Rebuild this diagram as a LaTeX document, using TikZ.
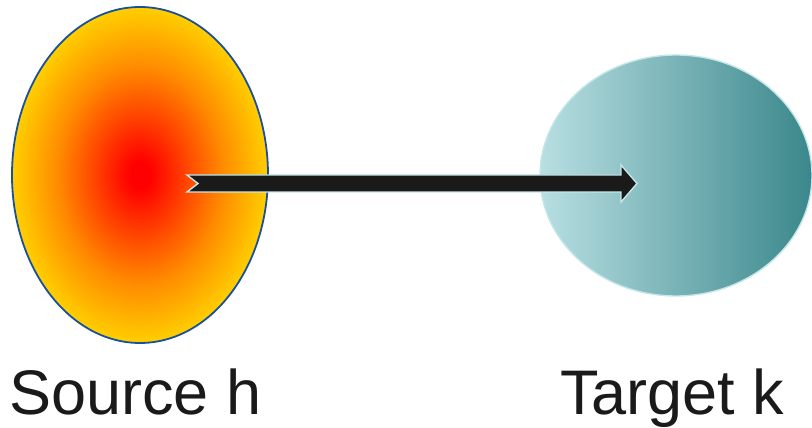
\documentclass[tikz,border=0pt]{standalone}
\usepackage{fontspec}
\setmainfont{Liberation Sans}
\usetikzlibrary{shapes.geometric, positioning, calc}

\definecolor{srcedge}{HTML}{1A4F9A}
\definecolor{tgtlight}{HTML}{B8DFE2}
\definecolor{tgtdark}{HTML}{3A878B}
\definecolor{tgtedge}{HTML}{C4E6E8}
\definecolor{arrowfill}{HTML}{1A1A1A}
\definecolor{srcmid}{HTML}{FF8A00}

\pgfdeclareradialshading{srcglow}{\pgfpoint{0bp}{0bp}}{%
  color(0bp)=(red); color(2bp)=(red); color(16bp)=(srcmid);
  color(30bp)=(yellow!92!orange); color(35bp)=(yellow); color(100bp)=(yellow)}

\tikzset{
  blob/.style={ellipse, inner sep=0pt},
  caption/.style={anchor=base west, inner sep=0pt, text=arrowfill,
    font=\fontsize{63}{76}\selectfont},
}

\begin{document}
\begin{tikzpicture}[x=1pt, y=1pt]

  % --- Canvas ---
  \useasboundingbox (0,0) rectangle (812,428);
  \clip (0,0) rectangle (812,428);

  % --- Source and target ---
  \node[blob, minimum width=256pt, minimum height=336pt,
        draw=srcedge, line width=1.8pt, shading=srcglow] (src) at (140,253) {};
  \node[blob, minimum width=272pt, minimum height=241pt,
        draw=tgtedge, line width=1.4pt,
        left color=tgtlight, right color=tgtdark] (tgt) at (676,252.5) {};

  % --- Arrow (notched tail) ---
  \coordinate (tail) at ($(src.center)+(47,-8.5)$);
  \coordinate (tip)  at ($(tgt.center)+(-39,-8)$);
  \filldraw[fill=arrowfill, draw=tgtedge, line width=1.4pt, line join=miter]
    (tail |- 0,253) -- ($(tip)+(-16,8.5)$) -- ($(tip)+(-16,18.5)$)
    -- (tip) -- ($(tip)+(-16,-18.5)$) -- ($(tip)+(-16,-8.5)$)
    -- (tail |- 0,236) -- ($(tail)+(11,0)$) -- cycle;

  % --- Labels ---
  \node[caption] (srclabel) at (9,13) {Source h};
  \node[caption] (tgtlabel) at (560,13) {Target k};

\end{tikzpicture}
\end{document}
